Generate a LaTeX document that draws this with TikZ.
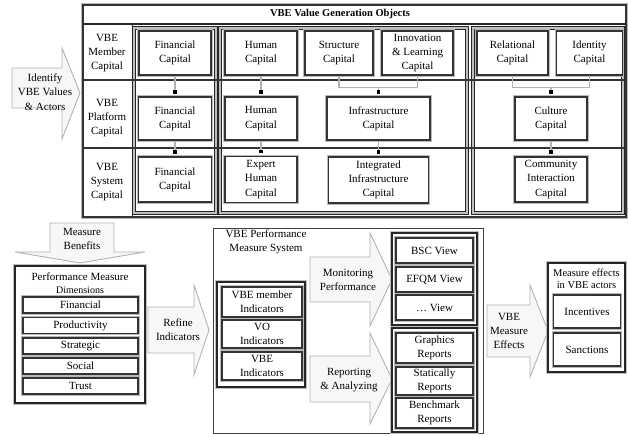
\documentclass[tikz,border=0pt]{standalone}
\usepackage{fontspec}
\setmainfont{Liberation Serif}
\usetikzlibrary{arrows.meta,calc}
\newcommand\myfs{\fontsize{11}{14.2}\selectfont}
\newcommand\mysmfs{\fontsize{10}{12}\selectfont}
\tikzset{
  capbox/.style={draw=black!80, line width=1.1pt, fill=white,
    preaction={draw=gray!55, line width=3.8pt},
    align=center, inner sep=1pt, font=\myfs},
  frmbox/.style={draw=black!85, line width=1.5pt, fill=white,
    preaction={draw=gray!50, line width=4.4pt}},
  grpbox/.style={draw=black!85, double=gray!50, double distance=1.5pt, line width=0.9pt},
  rowline/.style={draw=black!80, line width=1.6pt},
  barrow/.style={draw=gray!60, line width=0.9pt, fill=gray!6, line join=miter},
  txtnode/.style={align=center, inner sep=0pt, font=\myfs},
  connline/.style={draw=gray!60, line width=1.3pt,
    -{Square[length=3.5pt,width=3.5pt,color=black,fill=black]}, shorten >=2.5pt},
  brkline/.style={draw=gray!60, line width=1.6pt}
}
\begin{document}
\begin{tikzpicture}[x=1pt,y=-1pt]
\useasboundingbox (0,0) rectangle (628,436);

% ---------- top block ----------
\draw[draw=black!80, line width=1.1pt, fill=white, preaction={draw=gray!55,line width=3.8pt}] (83,5) rectangle (626,217);
\draw[black!85, line width=1.6pt] (83,24) -- (626,24);
\node[font=\bfseries\fontsize{10.5}{12}\selectfont] (title) at (340,14) {VBE Value Generation Objects};
\draw[black!85, line width=1pt] (132,24) -- (132,217);

\draw[grpbox] (134,28) rectangle (216,213);
\draw[grpbox] (220,28) rectangle (467,213);
\draw[grpbox] (473,28) rectangle (623,213);

\draw[rowline] (83,80) -- (626,80);
\draw[rowline] (83,148) -- (626,148);

\node[txtnode] (lm) at (107,53) {VBE\\Member\\Capital};
\node[txtnode] (lp) at (107,118) {VBE\\Platform\\Capital};
\node[txtnode] (ls) at (107,182) {VBE\\System\\Capital};

% identify arrow
\draw[barrow] (12,68) -- (62,68) -- (62,48) -- (80,93) -- (62,139) -- (62,108) -- (12,108) -- cycle;
\node[txtnode] (ida) at (45,92) {Identify\\VBE Values\\\& Actors};

% capital boxes
\node[capbox, minimum width=72pt, minimum height=44pt] (fm) at (175,53) {Financial\\Capital};
\node[capbox, minimum width=73pt, minimum height=43pt] (fp) at (175,118.5) {Financial\\Capital};
\node[capbox, minimum width=73pt, minimum height=45pt] (fs) at (175,179.5) {Financial\\Capital};

\node[capbox, minimum width=72pt, minimum height=44pt] (hm) at (261,53) {Human\\Capital};
\node[capbox, minimum width=68pt, minimum height=44pt] (st) at (339,53) {Structure\\Capital};
\node[capbox, minimum width=71pt, minimum height=44pt] (in) at (417.5,53) {Innovation\\\& Learning\\Capital};
\node[capbox, minimum width=72pt, minimum height=43pt] (hp) at (261,118.5) {Human\\Capital};
\node[capbox, minimum width=103pt, minimum height=43pt] (ic) at (378.5,118.5) {Infrastructure\\Capital};
\node[capbox, minimum width=72pt, minimum height=46pt] (eh) at (261,179.5) {Expert\\Human\\Capital};
\node[capbox, minimum width=100pt, minimum height=46pt] (ii) at (378.5,180) {Integrated\\Infrastructure\\Capital};

\node[capbox, minimum width=71pt, minimum height=44pt] (rc) at (512.5,53) {Relational\\Capital};
\node[capbox, minimum width=66pt, minimum height=44pt] (id) at (589.5,53) {Identity\\Capital};
\node[capbox, minimum width=72pt, minimum height=43pt] (cu) at (551,118.5) {Culture\\Capital};
\node[capbox, minimum width=72pt, minimum height=45pt] (ci) at (551,179.5) {Community\\Interaction\\Capital};

% connectors
\draw[connline] (fm) -- (fp);
\draw[connline] (fp) -- (fs);
\draw[connline] (hm) -- (hp);
\draw[connline] (hp) -- (eh);
\draw[connline] (ic) -- (ii);
\draw[connline] (cu) -- (ci);
\draw[brkline] (st.south) -- ++(0,12) -| (in.south);
\coordinate (b1) at ($(st.south)!0.5!(in.south)+(0,12)$);
\draw[connline] (b1) -- (b1 |- ic.north);
\draw[brkline] (rc.south) -- ++(0,12) -| (id.south);
\coordinate (b2) at ($(rc.south)!0.5!(id.south)+(0,12)$);
\draw[connline] (b2) -- (b2 |- cu.north);

% ---------- bottom left ----------
\draw[barrow] (50,223) -- (114,223) -- (114,252) -- (145,252) -- (80,263) -- (15,252) -- (50,252) -- cycle;
\node[txtnode] (mb) at (82,239) {Measure\\Benefits};

\node[frmbox, minimum width=130pt, minimum height=137pt] (pmd) at (80,334.5) {};
\node[txtnode] (pmt) at (80,277) {Performance Measure};
\node[txtnode, font=\mysmfs] (pmt2) at (80,290.5) {Dimensions};
\node[capbox, minimum width=115pt, minimum height=16pt] (d1) at (80.5,305) {Financial};
\node[capbox, minimum width=115pt, minimum height=16pt] (d2) at (80.5,325.5) {Productivity};
\node[capbox, minimum width=115pt, minimum height=16pt] (d3) at (80.5,346) {Strategic};
\node[capbox, minimum width=115pt, minimum height=16pt] (d4) at (80.5,366) {Social};
\node[capbox, minimum width=115pt, minimum height=16pt] (d5) at (80.5,386) {Trust};

% refine arrow
\draw[barrow] (148,307) -- (194,307) -- (194,285) -- (209,330) -- (194,375) -- (194,353) -- (148,353) -- cycle;
\node[txtnode] (rfa) at (178,330) {Refine\\Indicators};

% ---------- performance measure system ----------
\draw[draw=black!75, line width=1pt] (213,228) rectangle (483,433);
\node[txtnode] (pms) at (266,242) {VBE Performance\\Measure System};

\draw[frmbox] (217,282) rectangle (305,387);
\node[capbox, minimum width=80pt, minimum height=30pt] (i1) at (262,302) {VBE member\\Indicators};
\node[capbox, minimum width=80pt, minimum height=28pt] (i2) at (262,334) {VO\\Indicators};
\node[capbox, minimum width=80pt, minimum height=28pt] (i3) at (262,366) {VBE\\Indicators};

\draw[barrow] (310,257) -- (370,257) -- (370,233) -- (392,279.5) -- (370,326) -- (370,302) -- (310,302) -- cycle;
\node[txtnode] (mpa) at (348,280) {Monitoring\\Performance};
\draw[barrow] (310,356) -- (370,356) -- (370,333) -- (392,379) -- (370,424) -- (370,402) -- (310,402) -- cycle;
\node[txtnode] (raa) at (349,380) {Reporting\\\& Analyzing};

\draw[frmbox] (392,233) rectangle (477,325);
\node[capbox, minimum width=77pt, minimum height=25pt] (v1) at (434.5,250.5) {BSC View};
\node[capbox, minimum width=77pt, minimum height=25pt] (v2) at (434.5,279.5) {EFQM View};
\node[capbox, minimum width=77pt, minimum height=25pt] (v3) at (434.5,307.5) {\ldots\ View};

\draw[frmbox] (392,328) rectangle (477,432);
\node[capbox, minimum width=77pt, minimum height=30pt] (r1) at (434.5,348) {Graphics\\Reports};
\node[capbox, minimum width=77pt, minimum height=28pt] (r2) at (434.5,381) {Statically\\Reports};
\node[capbox, minimum width=77pt, minimum height=30pt] (r3) at (434.5,413) {Benchmark\\Reports};

% ---------- measure effects ----------
\draw[barrow] (487,305) -- (530,305) -- (530,285) -- (548,331) -- (530,377) -- (530,357) -- (487,357) -- cycle;
\node[txtnode] (mea) at (509,331) {VBE\\Measure\\Effects};

\draw[frmbox] (548,263) rectangle (625,372);
\node[txtnode, font=\fontsize{10.5}{12}\selectfont] (met) at (586.5,279) {Measure effects\\in VBE actors};
\node[capbox, minimum width=67pt, minimum height=33pt] (e1) at (587,311.5) {Incentives};
\node[capbox, minimum width=67pt, minimum height=33pt] (e2) at (587,349.5) {Sanctions};
\end{tikzpicture}
\end{document}
